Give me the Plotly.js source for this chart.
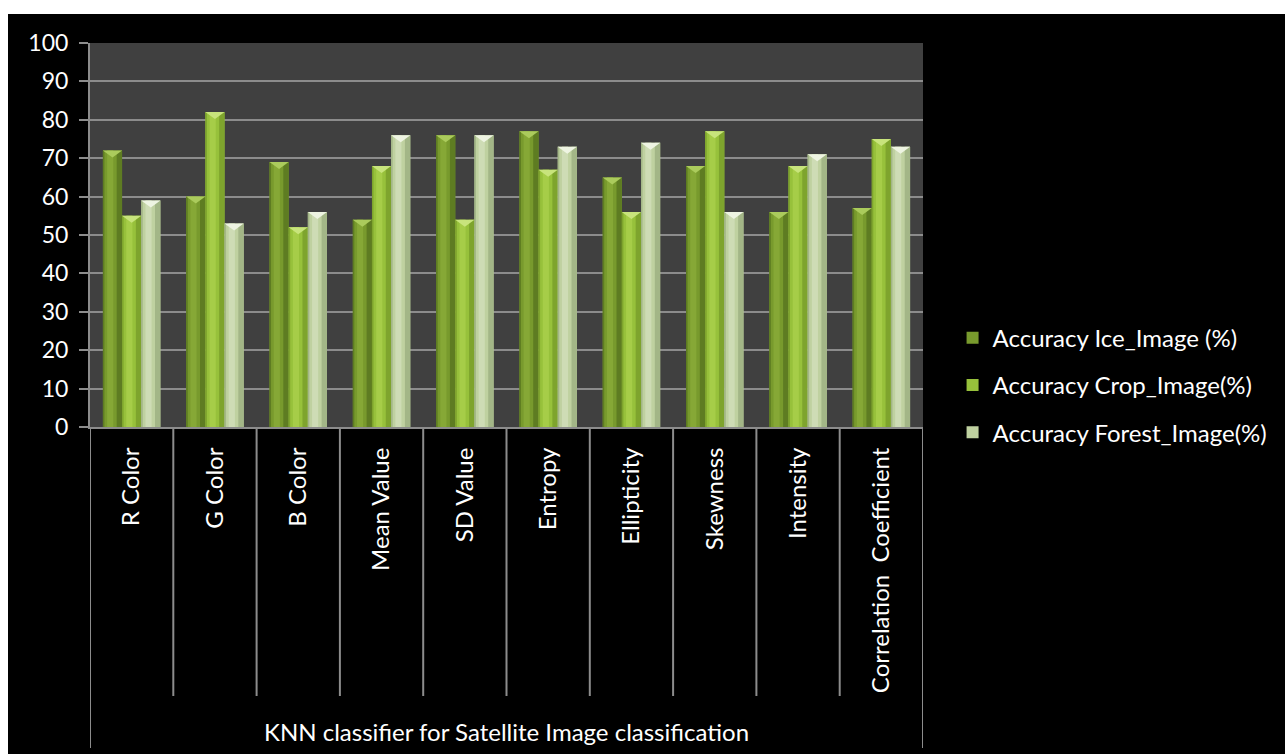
<!DOCTYPE html>
<html>
<head>
<meta charset="utf-8">
<script src="https://cdn.plot.ly/plotly-3.0.1.min.js"></script>
<style>
  html, body { margin: 0; padding: 0; background: #ffffff; }
  #chart { position: absolute; left: 8px; top: 14px; width: 1277px; height: 740px; }
</style>
</head>
<body>
<div id="chart"></div>
<script>
// Features used by the KNN classifier
const features = [
  "R Color", "G Color", "B Color", "Mean Value", "SD Value",
  "Entropy", "Ellipticity", "Skewness", "Intensity", "Correlation\u00a0 Coefficient"
];

// Classification accuracy (%) per feature and image type
const iceAccuracy    = [72, 60, 69, 54, 76, 77, 65, 68, 56, 57];
const cropAccuracy   = [55, 82, 52, 68, 54, 67, 56, 77, 68, 75];
const forestAccuracy = [59, 53, 56, 76, 76, 73, 74, 56, 71, 73];

const seriesNames = [
  "Accuracy Ice_Image (%)",
  "Accuracy Crop_Image(%)",
  "Accuracy Forest_Image(%)"
];
const groupTitle = "KNN classifier for Satellite Image classification";

const yTicks = [0, 10, 20, 30, 40, 50, 60, 70, 80, 90, 100];

// Per-series palette: body, shaded edge, highlight, bevelled cap
const bodyColors  = ["#789a2d", "#97c13b", "#bfd1a0"];
const shadeColors = ["#5e7c22", "#7ea42d", "#a3b687"];
const lightColors = ["#86a836", "#a6cd48", "#cedcb5"];
const capColors   = ["#abcb5c", "#c8e47c", "#eef4e2"];
const seriesValues = [iceAccuracy, cropAccuracy, forestAccuracy];

const FONT = "Lato, 'Open Sans', sans-serif";
const GRID = "#8c8c8c";

// Bar geometry in category units
const GROUP_WIDTH = 0.69;
const BAR_W = GROUP_WIDTH / 3;
const barOffset = k => -GROUP_WIDTH / 2 + k * BAR_W;

const traces = [];
seriesValues.forEach((vals, k) => {
  const off = barOffset(k);
  // main bar body (also the legend entry)
  traces.push({
    type: "bar", name: seriesNames[k], x: features, y: vals,
    offset: off, width: BAR_W, legendgroup: "g" + k,
    marker: { color: bodyColors[k], line: { width: 0 } },
    hoverinfo: "x+y+name"
  });
  // darker right-hand edge and thin left edge give the rounded look
  traces.push({
    type: "bar", x: features, y: vals, showlegend: false, hoverinfo: "skip",
    offset: off + BAR_W * 0.72, width: BAR_W * 0.28, legendgroup: "g" + k,
    marker: { color: shadeColors[k], line: { width: 0 } }
  });
  traces.push({
    type: "bar", x: features, y: vals, showlegend: false, hoverinfo: "skip",
    offset: off, width: BAR_W * 0.08, legendgroup: "g" + k,
    marker: { color: shadeColors[k], line: { width: 0 } }
  });
  // soft highlight band
  traces.push({
    type: "bar", x: features, y: vals, showlegend: false, hoverinfo: "skip",
    offset: off + BAR_W * 0.22, width: BAR_W * 0.32, legendgroup: "g" + k,
    marker: { color: lightColors[k], line: { width: 0 } }
  });
});

// Separators below the category axis: short ones between features,
// long ones at the two ends enclosing the group title.
const shapes = [];
for (let i = 0; i <= features.length; i++) {
  const outer = (i === 0 || i === features.length);
  shapes.push({
    type: "line", xref: "x", yref: "paper",
    x0: i - 0.5, x1: i - 0.5,
    y0: 0, y1: outer ? -0.836 : -0.7005,
    line: { color: GRID, width: 2 },
    layer: "above"
  });
}

// Bevelled triangular cap on top of every bar, anchored at the bar's value
seriesValues.forEach((vals, k) => {
  vals.forEach((v, i) => {
    shapes.push({
      type: "path", xref: "x", yref: "y",
      xsizemode: "pixel", ysizemode: "pixel",
      xanchor: i + barOffset(k) + BAR_W / 2, yanchor: v,
      path: "M-9.6,0 L9.6,0 L0,-7 Z",
      fillcolor: capColors[k],
      line: { width: 0 },
      layer: "above"
    });
  });
});

const layout = {
  width: 1277,
  height: 740,
  margin: { l: 82, r: 362, t: 29, b: 327, pad: 0 },
  paper_bgcolor: "#000000",
  plot_bgcolor: "#404040",
  barmode: "overlay",
  font: { family: FONT, color: "#ffffff", size: 24 },
  showlegend: true,
  legend: {
    x: 1.0355, y: 0.109, xanchor: "left", yanchor: "middle",
    font: { family: FONT, color: "#ffffff", size: 24 },
    bgcolor: "rgba(0,0,0,0)",
    tracegroupgap: 13,
    itemwidth: 30
  },
  xaxis: {
    type: "category",
    range: [-0.5, features.length - 0.5],
    tickangle: -90,
    ticks: "",
    showline: true, linecolor: GRID, linewidth: 2,
    showgrid: false,
    tickfont: { family: FONT, color: "#ffffff", size: 24 },
    ticklabelstandoff: 9,
    fixedrange: true
  },
  yaxis: {
    range: [0, 100],
    tickvals: yTicks,
    ticktext: yTicks.map(String),
    showgrid: true, gridcolor: GRID, gridwidth: 2,
    zeroline: false,
    showline: true, linecolor: GRID, linewidth: 2,
    ticks: "outside", ticklen: 9, tickcolor: GRID, tickwidth: 2,
    tickfont: { family: FONT, color: "#ffffff", size: 23 },
    ticklabelstandoff: 6,
    fixedrange: true
  },
  shapes: shapes,
  annotations: [{
    text: groupTitle,
    xref: "paper", yref: "paper",
    x: 0.5, y: -0.7917,
    xanchor: "center", yanchor: "middle",
    showarrow: false,
    font: { family: FONT, color: "#ffffff", size: 24 }
  }]
};

Plotly.newPlot("chart", traces, layout, { displayModeBar: false, staticPlot: true });
</script>
</body>
</html>
